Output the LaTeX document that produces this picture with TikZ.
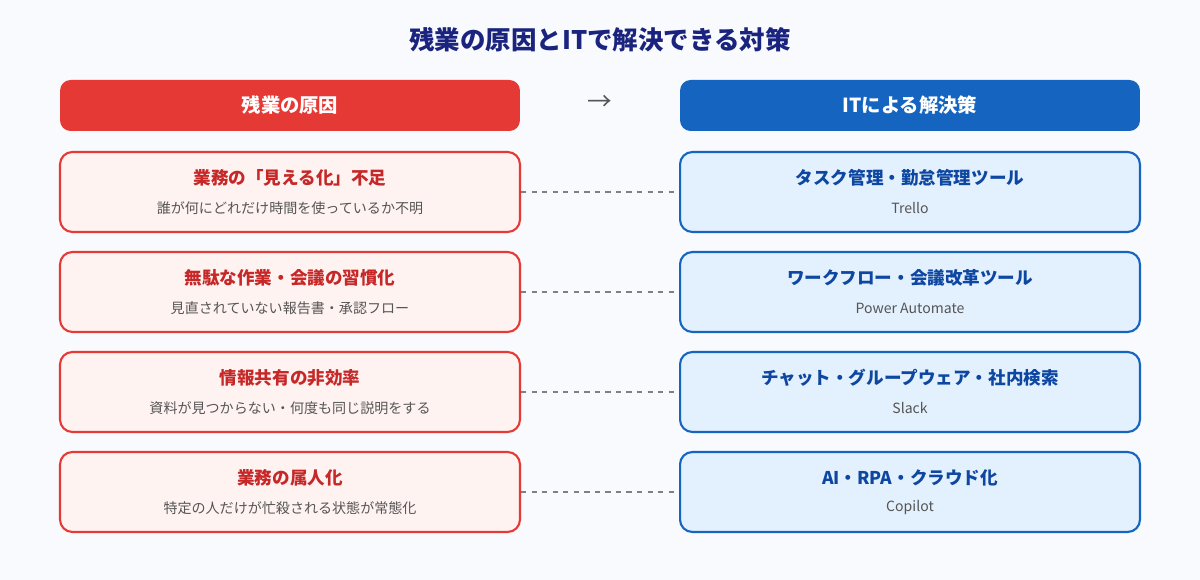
\documentclass[tikz,border=0pt]{standalone}
\usepackage{fontspec}
\setmainfont{Noto Sans CJK JP}
\usetikzlibrary{positioning}
\definecolor{bgi}{RGB}{248,250,253}
\definecolor{navyi}{RGB}{26,35,126}
\definecolor{redi}{RGB}{229,57,53}
\definecolor{redii}{RGB}{255,243,242}
\definecolor{rediii}{RGB}{198,40,40}
\definecolor{bluei}{RGB}{21,101,192}
\definecolor{blueii}{RGB}{227,240,253}
\definecolor{blueiii}{RGB}{13,71,161}
\definecolor{greyi}{RGB}{85,85,85}
\tikzset{
      myhead/.style={
        fill=#1,
        rounded corners=6pt,
        minimum width=9.2cm,
        minimum height=1.02cm,
        text=white,
        font=\fontsize{11}{13}\selectfont\bfseries
      },
      mybox/.style 2 args={
        draw=#1,
        fill=#2,
        line width=1.2pt,
        rounded corners=7pt,
        minimum width=9.2cm,
        minimum height=1.6cm
      },
      mytitle/.style={font=\fontsize{10}{12}\selectfont\bfseries, text=#1},
      mysub/.style={font=\fontsize{8}{10}\selectfont, text=greyi},
      mylink/.style={draw=gray, dashed, line width=0.8pt},
    }
\begin{document}
\begin{tikzpicture}[x=0.02cm,y=-0.02cm]
  \fill[bgi] (0,0) rectangle (1200,580);
  \node[font=\fontsize{14.5}{17}\selectfont\bfseries,text=navyi] (title) at (600,40) {残業の原因とITで解決できる対策};
  \node[myhead=redi] (lhead) at (290,105.5) {残業の原因};
  \node[myhead=bluei] (rhead) at (910,105.5) {ITによる解決策};
  \node[font=\fontsize{14}{16}\selectfont, text=greyi] (arr) at (600,103) {→};

  \foreach \i/\lt/\ls/\rt/\rs in {
      1/業務の「見える化」不足/誰が何にどれだけ時間を使っているか不明/タスク管理・勤怠管理ツール/Trello / Asana / KING OF TIME,
      2/無駄な作業・会議の習慣化/見直されていない報告書・承認フロー/ワークフロー・会議改革ツール/Power Automate / 自動議事録（Teams・Zoom）,
      3/情報共有の非効率/資料が見つからない・何度も同じ説明をする/チャット・グループウェア・社内検索/Slack / Teams / Google Drive,
      4/業務の属人化/特定の人だけが忙殺される状態が常態化/AI・RPA・クラウド化/Copilot / UiPath / OneDrive} {
    \node[mybox={redi}{redii}] (cause\i) at (290,92+100*\i) {};
    \node[mytitle=rediii] at (290,78+100*\i) {\lt};
    \node[mysub] at (290,108+100*\i) {\ls};
    \node[mybox={bluei}{blueii}] (fix\i) at (910,92+100*\i) {};
    \node[mytitle=blueiii] at (910,78+100*\i) {\rt};
    \node[mysub] at (910,108+100*\i) {\rs};
    \draw[mylink] (cause\i) -- (fix\i);
  }
\end{tikzpicture}
\end{document}
